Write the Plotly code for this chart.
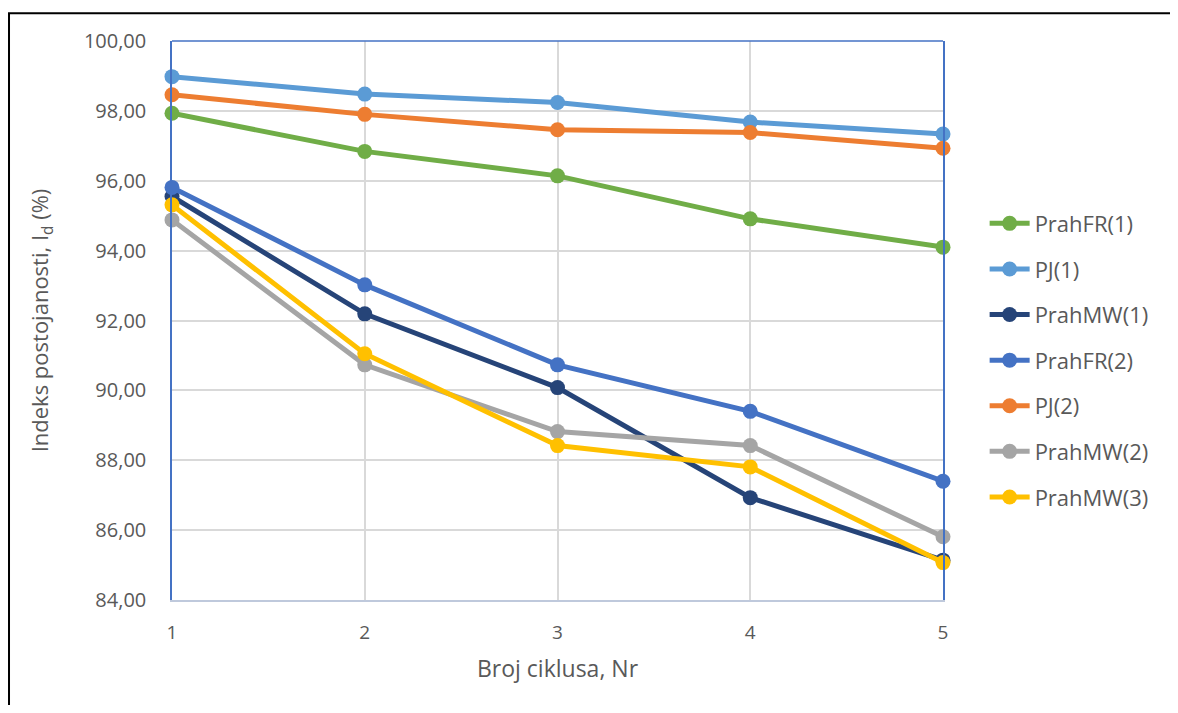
import plotly.graph_objects as go

cycles = [1, 2, 3, 4, 5]
series_names = ["PrahFR(1)", "PJ(1)", "PrahMW(1)", "PrahFR(2)", "PJ(2)", "PrahMW(2)", "PrahMW(3)"]
prahfr1 = [97.93, 96.84, 96.14, 94.91, 94.10]
pj1 = [98.98, 98.48, 98.24, 97.68, 97.34]
prahmw1 = [95.55, 92.19, 90.08, 86.93, 85.14]
prahfr2 = [95.81, 93.02, 90.73, 89.40, 87.40]
pj2 = [98.46, 97.90, 97.46, 97.38, 96.93]
prahmw2 = [94.88, 90.73, 88.82, 88.42, 85.81]
prahmw3 = [95.31, 91.05, 88.42, 87.81, 85.07]
colors = ["#70ad47", "#5b9bd5", "#264478", "#4472c4", "#ed7d31", "#a5a5a5", "#ffc000"]
y_ticks = [84, 86, 88, 90, 92, 94, 96, 98, 100]

all_series = [prahfr1, pj1, prahmw1, prahfr2, pj2, prahmw2, prahmw3]

fig = go.Figure()
for i, (name, vals, col) in enumerate(zip(series_names, all_series, colors)):
    fig.add_trace(go.Scatter(
        x=cycles, y=vals, name=name, mode="lines+markers",
        line=dict(color=col, width=5),
        marker=dict(color=col, size=15),
        legendgroup=f"g{i}", cliponaxis=False,
    ))

font_family = "Open Sans, Noto Sans, sans-serif"
fig.update_layout(
    width=1162, height=697,
    margin=dict(l=164, r=227, t=33, b=105),
    paper_bgcolor="white", plot_bgcolor="white",
    separators=",.",
    font=dict(family=font_family, size=20, color="#595959"),
    showlegend=True,
    legend=dict(x=1.054, y=0.711, xanchor="left", yanchor="top",
                font=dict(size=22, color="#595959"),
                traceorder="grouped", tracegroupgap=14,
                itemwidth=40, bgcolor="rgba(0,0,0,0)"),
    xaxis=dict(range=[1, 5], tickvals=cycles, ticktext=[str(c) for c in cycles],
               showgrid=True, gridcolor="#d9d9d9", gridwidth=1.5,
               showline=True, linecolor="#bfc9dc", linewidth=2,
               zeroline=False, ticks="", ticklabelstandoff=14,
               tickfont=dict(size=19, color="#595959"),
               title=dict(text="Broj ciklusa, Nr", standoff=17,
                          font=dict(size=23, color="#595959"))),
    yaxis=dict(range=[84, 100], tickvals=y_ticks, tickformat=".2f",
               showgrid=True, gridcolor="#d9d9d9", gridwidth=1.5,
               showline=True, linecolor="#4472c4", linewidth=1.5, mirror=True,
               zeroline=False, ticks="", ticklabelstandoff=20,
               tickfont=dict(size=20, color="#595959"),
               title=dict(text="Indeks postojanosti, I<sub>d</sub> (%)", standoff=29,
                          font=dict(size=22, color="#595959"))),
    shapes=[
        dict(type="line", xref="paper", yref="paper", x0=0, x1=1, y0=1, y1=1,
             line=dict(color="#4472c4", width=1.5), layer="above"),
        dict(type="rect", xref="paper", yref="paper",
             x0=-0.2114, x1=1.3, y0=-0.3, y1=1.0497,
             line=dict(color="black", width=2), layer="below"),
    ],
)

fig.write_html("out.html")
